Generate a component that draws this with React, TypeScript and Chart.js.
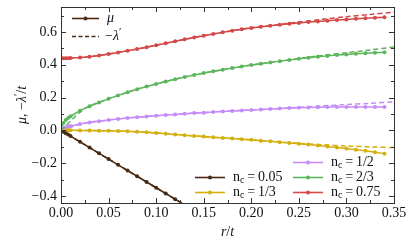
import React, { useEffect, useRef } from "react";
import { Chart, registerables } from "chart.js";

Chart.register(...registerables);

// ---- data ----
const rSolid = [0, 0.0025, 0.005, 0.0075, 0.01, 0.02, 0.03, 0.04, 0.05, 0.06, 0.07, 0.08, 0.09, 0.1, 0.11, 0.12, 0.13, 0.14, 0.15, 0.16, 0.17, 0.18, 0.19, 0.2, 0.21, 0.22, 0.23, 0.24, 0.25, 0.26, 0.27, 0.28, 0.29, 0.3, 0.31, 0.32, 0.33, 0.34];
const rDashed = [0, 0.025, 0.05, 0.075, 0.1, 0.125, 0.15, 0.175, 0.2, 0.225, 0.25, 0.275, 0.3, 0.325, 0.35];

const muBrown = [0, -0.009, -0.0175, -0.026, -0.035, -0.07, -0.105, -0.14, -0.175, -0.21, -0.245, -0.28, -0.315, -0.35, -0.385, -0.42, -0.455];
const muYellow = [0, 0, 0, 0, 0, -0.001, -0.001, -0.002, -0.003, -0.004, -0.006, -0.009, -0.012, -0.016, -0.021, -0.025, -0.03, -0.034, -0.038, -0.042, -0.046, -0.05, -0.054, -0.058, -0.063, -0.067, -0.072, -0.077, -0.082, -0.087, -0.093, -0.099, -0.105, -0.111, -0.118, -0.125, -0.133, -0.142];
const muPurple = [0, 0.013, 0.019, 0.023, 0.027, 0.039, 0.048, 0.056, 0.063, 0.069, 0.075, 0.08, 0.085, 0.089, 0.093, 0.097, 0.101, 0.105, 0.108, 0.112, 0.115, 0.118, 0.121, 0.124, 0.127, 0.13, 0.133, 0.136, 0.138, 0.14, 0.141, 0.142, 0.143, 0.143, 0.143, 0.143, 0.143, 0.143];
const muGreen = [0, 0.045, 0.063, 0.076, 0.086, 0.12, 0.147, 0.17, 0.192, 0.213, 0.232, 0.25, 0.267, 0.283, 0.298, 0.312, 0.325, 0.337, 0.349, 0.36, 0.37, 0.38, 0.389, 0.398, 0.406, 0.414, 0.422, 0.429, 0.436, 0.443, 0.449, 0.454, 0.459, 0.463, 0.467, 0.47, 0.473, 0.476];
const muRed = [0.44, 0.44, 0.44, 0.44, 0.441, 0.444, 0.449, 0.456, 0.465, 0.474, 0.485, 0.496, 0.507, 0.519, 0.531, 0.543, 0.555, 0.566, 0.577, 0.588, 0.598, 0.607, 0.616, 0.624, 0.631, 0.638, 0.644, 0.65, 0.655, 0.66, 0.664, 0.668, 0.672, 0.676, 0.68, 0.683, 0.686, 0.689];

const lamBrown = [0, -0.0875, -0.175, -0.2625, -0.35, -0.4375, -0.525];
const lamYellow = [0, -0.0005, -0.003, -0.008, -0.016, -0.027, -0.038, -0.048, -0.058, -0.068, -0.079, -0.088, -0.095, -0.101, -0.105];
const lamPurple = [0, 0.044, 0.063, 0.078, 0.089, 0.099, 0.108, 0.117, 0.124, 0.131, 0.14, 0.149, 0.157, 0.165, 0.173];
const lamGreen = [0, 0.133, 0.192, 0.242, 0.283, 0.319, 0.349, 0.375, 0.398, 0.418, 0.438, 0.457, 0.473, 0.49, 0.508];
const lamRed = [0.44, 0.446, 0.465, 0.49, 0.519, 0.549, 0.577, 0.603, 0.625, 0.643, 0.66, 0.677, 0.693, 0.707, 0.72];

const seriesLabels = ["0.05", "1/3", "1/2", "2/3", "0.75"];
const seriesColors = ["#4a2a12", "#d4b00c", "#c58cf8", "#5cb65c", "#d44848"];
const muSeries = [muBrown, muYellow, muPurple, muGreen, muRed];
const lamSeries = [lamBrown, lamYellow, lamPurple, lamGreen, lamRed];

const xTicks = [0, 0.05, 0.1, 0.15, 0.2, 0.25, 0.3, 0.35];
const xTickLabels = ["0.00", "0.05", "0.10", "0.15", "0.20", "0.25", "0.30", "0.35"];
const yTicks = [-0.4, -0.2, 0, 0.2, 0.4, 0.6];
const yTickLabels = ["\u22120.4", "\u22120.2", "0.0", "0.2", "0.4", "0.6"];

const FONT = "Liberation Serif";
const FS = 14;

type Seg = { t: string; it?: boolean; size?: number; dy?: number };

function segWidth(ctx: CanvasRenderingContext2D, segs: Seg[], base: number) {
  let w = 0;
  for (const s of segs) {
    ctx.font = `${s.it ? "italic " : ""}${s.size || base}px ${FONT}`;
    w += ctx.measureText(s.t).width;
  }
  return w;
}

function drawSegs(ctx: CanvasRenderingContext2D, segs: Seg[], x: number, y: number, base: number) {
  let cx = x;
  ctx.textAlign = "left";
  ctx.textBaseline = "middle";
  for (const s of segs) {
    ctx.font = `${s.it ? "italic " : ""}${s.size || base}px ${FONT}`;
    ctx.fillText(s.t, cx, y + (s.dy || 0));
    cx += ctx.measureText(s.t).width;
  }
}

const decorPlugin = {
  id: "decor",
  afterDraw(chart: any) {
    const ctx: CanvasRenderingContext2D = chart.ctx;
    const xs = chart.scales.x;
    const ys = chart.scales.y;
    const a = chart.chartArea;
    ctx.save();
    // frame
    ctx.strokeStyle = "#333";
    ctx.lineWidth = 1;
    ctx.strokeRect(Math.round(a.left) + 0.5, Math.round(a.top) + 0.5, Math.round(a.right - a.left), Math.round(a.bottom - a.top));
    // ticks
    ctx.beginPath();
    for (let i = 0; i <= 14; i++) {
      const v = i * 0.025;
      const px = Math.round(xs.getPixelForValue(v)) + 0.5;
      const len = i % 2 === 0 ? 5 : 3;
      ctx.moveTo(px, a.bottom);
      ctx.lineTo(px, a.bottom - len);
      ctx.moveTo(px, a.top);
      ctx.lineTo(px, a.top + len);
    }
    for (let i = -4; i <= 7; i++) {
      const v = i * 0.1;
      const py = Math.round(ys.getPixelForValue(v)) + 0.5;
      if (py < a.top || py > a.bottom) continue;
      const len = i % 2 === 0 ? 5 : 3;
      ctx.moveTo(a.left, py);
      ctx.lineTo(a.left + len, py);
      ctx.moveTo(a.right, py);
      ctx.lineTo(a.right - len, py);
    }
    ctx.stroke();
    // tick labels
    ctx.fillStyle = "#111";
    ctx.font = `${FS}px ${FONT}`;
    ctx.textAlign = "center";
    ctx.textBaseline = "middle";
    xTicks.forEach((v, i) => ctx.fillText(xTickLabels[i], xs.getPixelForValue(v), a.bottom + 10));
    ctx.textAlign = "right";
    yTicks.forEach((v, i) => ctx.fillText(yTickLabels[i], a.left - 4, ys.getPixelForValue(v)));
    // x title
    const xt: Seg[] = [{ t: "r", it: true }, { t: "/" }, { t: "t", it: true }];
    const xw = segWidth(ctx, xt, FS);
    drawSegs(ctx, xt, (a.left + a.right) / 2 - xw / 2, a.bottom + 29, FS);
    // y title
    const yt: Seg[] = [{ t: "\u03bc", it: true }, { t: ", \u2212" }, { t: "\u03bb", it: true }, { t: "\u2032", size: 11, dy: -4 }, { t: "/" }, { t: "t", it: true }];
    const yw = segWidth(ctx, yt, FS);
    ctx.save();
    ctx.translate(22, (a.top + a.bottom) / 2);
    ctx.rotate(-Math.PI / 2);
    drawSegs(ctx, yt, -yw / 2, 0, FS);
    ctx.restore();

    // top-left legend
    const brown = seriesColors[0];
    ctx.lineWidth = 1.6;
    ctx.strokeStyle = brown;
    ctx.beginPath();
    ctx.moveTo(72, 18.5);
    ctx.lineTo(99, 18.5);
    ctx.stroke();
    ctx.fillStyle = brown;
    ctx.beginPath();
    ctx.arc(85.5, 18.5, 2, 0, Math.PI * 2);
    ctx.fill();
    ctx.setLineDash([4, 2.5]);
    ctx.beginPath();
    ctx.moveTo(72, 36.5);
    ctx.lineTo(99, 36.5);
    ctx.stroke();
    ctx.setLineDash([]);
    ctx.fillStyle = "#111";
    drawSegs(ctx, [{ t: "\u03bc", it: true }], 107, 18, FS);
    drawSegs(ctx, [{ t: "\u2212" }, { t: "\u03bb", it: true }, { t: "\u2032", size: 11, dy: -4 }], 105, 36, FS);

    // bottom-right legend
    const pos = [
      [195, 177],
      [195, 192],
      [293, 162],
      [293, 177],
      [293, 192],
    ];
    seriesLabels.forEach((lab, i) => {
      const [lx, ly] = pos[i];
      const c = seriesColors[i];
      ctx.strokeStyle = c;
      ctx.lineWidth = 1.6;
      ctx.beginPath();
      ctx.moveTo(lx, ly + 0.5);
      ctx.lineTo(lx + 30, ly + 0.5);
      ctx.stroke();
      ctx.fillStyle = c;
      ctx.beginPath();
      ctx.arc(lx + 15, ly + 0.5, 2, 0, Math.PI * 2);
      ctx.fill();
      ctx.fillStyle = "#111";
      drawSegs(ctx, [{ t: "n" }, { t: "c", size: 10, dy: 3 }, { t: "\u2009=\u2009" + lab }], lx + 38, ly, FS);
    });
    ctx.restore();
  },
};

export default function App() {
  const ref = useRef<HTMLCanvasElement | null>(null);
  useEffect(() => {
    if (!ref.current) return;
    const datasets: any[] = [];
    lamSeries.forEach((vals, i) => {
      datasets.push({
        data: vals.map((v, j) => ({ x: rDashed[j], y: v })),
        borderColor: seriesColors[i],
        borderWidth: 1.5,
        borderDash: [5, 3],
        pointRadius: 0,
        fill: false,
        tension: 0.3,
      });
    });
    muSeries.forEach((vals, i) => {
      datasets.push({
        data: vals.map((v, j) => ({ x: rSolid[j], y: v })),
        borderColor: seriesColors[i],
        backgroundColor: seriesColors[i],
        borderWidth: 1.5,
        pointRadius: 2,
        pointBorderWidth: 0,
        pointStyle: "circle",
        fill: false,
        tension: 0,
      });
    });
    const chart = new Chart(ref.current, {
      type: "line",
      data: { datasets },
      options: {
        animation: false,
        responsive: false,
        layout: { padding: { left: 61, right: 21, top: 7, bottom: 43 } },
        plugins: { legend: { display: false }, tooltip: { enabled: false } },
        scales: {
          x: { type: "linear", min: 0, max: 0.35, display: false },
          y: { type: "linear", min: -0.443, max: 0.752, display: false },
        },
      },
      plugins: [decorPlugin],
    });
    return () => chart.destroy();
  }, []);
  return (
    <div style={{ position: "absolute", left: 0, top: 0, width: 415, height: 246, background: "#fff" }}>
      <canvas ref={ref} width={415} height={246} />
    </div>
  );
}
